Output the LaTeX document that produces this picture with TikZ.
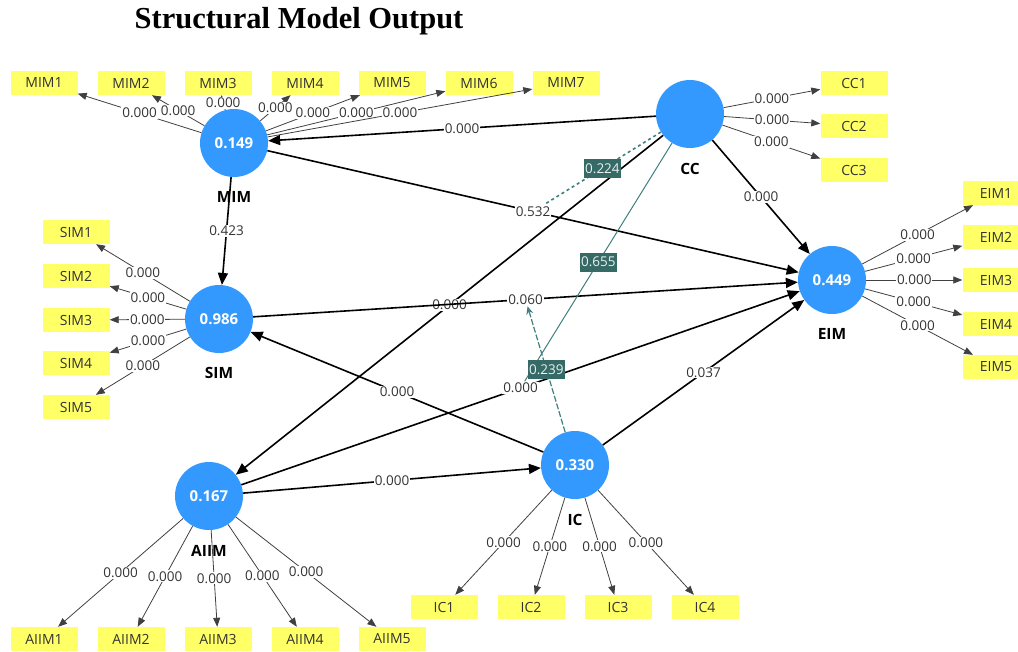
\documentclass[tikz,border=0pt]{standalone}
\usepackage{fontspec}
\setmainfont{Open Sans}
\newfontfamily\titlefont{Liberation Serif}
\usetikzlibrary{arrows.meta}
\definecolor{lvblue}{HTML}{3399FF}
\definecolor{indyel}{HTML}{FFFF66}
\definecolor{tealbox}{HTML}{356A66}
\definecolor{tealline}{HTML}{3F7F7D}
\begin{document}
\begin{tikzpicture}[x=1pt,y=-1pt,
 lv/.style={circle,fill=lvblue,minimum size=68pt,inner sep=0pt,text=white,font=\fontsize{15}{17}\selectfont\bfseries},
 lvname/.style={font=\fontsize{15.5}{17}\selectfont\bfseries},
 ind/.style={rectangle,fill=indyel,minimum width=67pt,minimum height=24pt,inner sep=0pt,text=black!80,font=\fontsize{14}{16}\selectfont},
 meas/.style={draw=black!75,line width=0.8pt,-{Triangle[length=9pt,width=7pt]}},
 struct/.style={draw=black,line width=1.6pt,-{Triangle[length=12pt,width=10pt]}},
 elab/.style={fill=white,inner sep=1pt,text=black!80,font=\fontsize{13.5}{15}\selectfont},
 mlab/.style={fill=tealbox,text=white!90!tealbox,inner sep=1.5pt,minimum height=19pt,font=\fontsize{13.5}{15}\selectfont},
 modline/.style={draw=tealline,line width=1.2pt}]

\useasboundingbox (0,0) rectangle (1018,651);
\clip (0,0) rectangle (1018,651);

\node[font=\titlefont\fontsize{30.5}{34}\selectfont\bfseries] (title) at (299,21) {Structural Model Output};

% latent variables
\node[lv] (MIM) at (234,143) {0.149};
\node[lv] (CC) at (690,114) {};
\node[lv] (SIM) at (219,319) {0.986};
\node[lv] (EIM) at (832,280) {0.449};
\node[lv] (AIIM) at (209,496) {0.167};
\node[lv] (IC) at (575,465) {0.330};

\node[lvname] (MIMn) at (234,197) {MIM};
\node[lvname] (CCn) at (690,169) {CC};
\node[lvname] (SIMn) at (219,373) {SIM};
\node[lvname] (EIMn) at (832,334) {EIM};
\node[lvname] (AIIMn) at (209,551) {AIIM};
\node[lvname] (ICn) at (575,520) {IC};

% indicators
\foreach \i in {1,...,7} {
  \node[ind] (MIM\i) at ({44+87*(\i-1)},83) {MIM\i};
  \draw[meas] (MIM) -- node[elab] {0.000} (MIM\i);
}
\foreach \i/\y in {1/83,2/126,3/170} {
  \node[ind] (CC\i) at (854,\y) {CC\i};
  \draw[meas] (CC) -- node[elab] {0.000} (CC\i);
}
\foreach \i/\y in {1/193,2/237,3/280,4/324,5/367} {
  \node[ind] (EIM\i) at (996,\y) {EIM\i};
  \draw[meas] (EIM) -- node[elab] {0.000} (EIM\i);
}
\foreach \i/\y in {1/232,2/276,3/320,4/363,5/407} {
  \node[ind] (SIM\i) at (76,\y) {SIM\i};
  \draw[meas] (SIM) -- node[elab] {0.000} (SIM\i);
}
\foreach \i in {1,...,5} {
  \node[ind] (AIIM\i) at ({44+87*(\i-1)},639) {AIIM\i};
  \draw[meas] (AIIM) -- node[elab] {0.000} (AIIM\i);
}
\foreach \i in {1,...,4} {
  \node[ind] (IC\i) at ({444+87*(\i-1)},607) {IC\i};
  \draw[meas] (IC) -- node[elab] {0.000} (IC\i);
}

% structural paths
\draw[struct] (CC) -- node[elab] (lccmim) {0.000} (MIM);
\draw[struct] (MIM) -- node[elab] (l532) {0.532} (EIM);
\draw[struct] (MIM) -- node[elab] (l423) {0.423} (SIM);
\draw[struct] (CC) -- node[elab] (lcceim) {0.000} (EIM);
\draw[struct] (CC) -- node[elab] (lccaiim) {0.000} (AIIM);
\draw[struct] (SIM) -- node[elab] (l060) {0.060} (EIM);
\draw[struct] (IC) -- node[elab] (licsim) {0.000} (SIM);
\draw[struct] (AIIM) -- node[elab] (laeim) {0.000} (EIM);
\draw[struct] (AIIM) -- node[elab] (laic) {0.000} (IC);
\draw[struct] (IC) -- node[elab] (l037) {0.037} (EIM);

% moderating effects
\draw[modline,line width=1.6pt,dash pattern=on 3pt off 3pt] (CC) -- node[mlab] (m224) {0.224} (l532);
\draw[modline,line width=1pt] (CC) -- node[mlab] (m655) {0.655} (laeim);
\draw[modline,dash pattern=on 6pt off 2pt,-{Stealth[length=8pt,width=7pt,open]}] (IC) -- node[mlab] (m239) {0.239} (l060);
\end{tikzpicture}
\end{document}
